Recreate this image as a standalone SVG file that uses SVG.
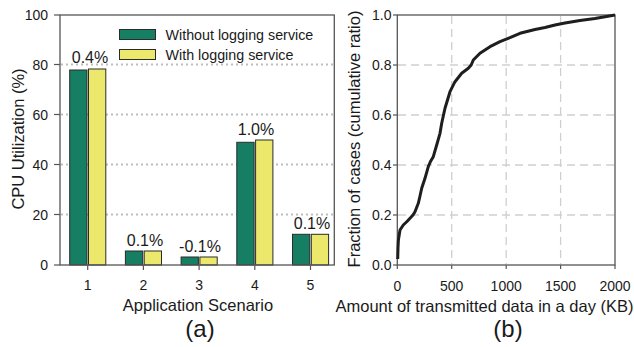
<svg xmlns="http://www.w3.org/2000/svg" width="634" height="347" viewBox="0 0 634 347">
<style>
text{font-family:"Liberation Sans",Arial,sans-serif;fill:#1a1a1a}
.tk{font-size:14px}
.ax{font-size:16.5px}
.bl{font-size:16px;text-anchor:middle}
.cap{font-size:24px;text-anchor:middle}
.frame{fill:none;stroke:#555;stroke-width:1.3}
.tick{stroke:#555;stroke-width:1.2}
.dot{stroke:#bdbdbd;stroke-width:2;stroke-dasharray:2 3}
.dash{stroke:#cfcfcf;stroke-width:1.3;stroke-dasharray:8 5}
.g{fill:#157e63;stroke:#2b2b2b;stroke-width:1}
.y{fill:#ece86c;stroke:#2b2b2b;stroke-width:1}
</style>
<rect width="634" height="347" fill="#fff"/>

<!-- Panel (a) -->
<g id="chart-a">
  <g id="a-grid">
    <line class="dot" x1="61" y1="214.5" x2="333" y2="214.5"/>
    <line class="dot" x1="61" y1="164.5" x2="333" y2="164.5"/>
    <line class="dot" x1="61" y1="114.5" x2="333" y2="114.5"/>
    <line class="dot" x1="61" y1="64.5" x2="333" y2="64.5"/>
  </g>
  <g id="a-bars">
    <rect class="g" x="69.7" y="70" width="17.3" height="195"/>
    <rect class="y" x="88.5" y="69" width="17.3" height="196"/>
    <rect class="g" x="125.4" y="251" width="17.3" height="14"/>
    <rect class="y" x="144.2" y="251" width="17.3" height="14"/>
    <rect class="g" x="181.1" y="257" width="17.3" height="8"/>
    <rect class="y" x="199.9" y="257" width="17.3" height="8"/>
    <rect class="g" x="236.8" y="142.3" width="17.3" height="122.7"/>
    <rect class="y" x="255.6" y="140" width="17.3" height="125"/>
    <rect class="g" x="292.5" y="234.3" width="17.3" height="30.7"/>
    <rect class="y" x="311.3" y="234.3" width="17.3" height="30.7"/>
  </g>
  <g id="a-barlabels">
    <text class="bl" x="90" y="63">0.4%</text>
    <text class="bl" x="145" y="246">0.1%</text>
    <text class="bl" x="200" y="252">-0.1%</text>
    <text class="bl" x="256" y="135">1.0%</text>
    <text class="bl" x="312" y="228.5">0.1%</text>
  </g>
  <rect class="frame" x="60" y="15" width="274.3" height="250"/>
  <g id="a-ticks">
    <line class="tick" x1="54" y1="15" x2="60" y2="15"/>
    <line class="tick" x1="54" y1="64.5" x2="60" y2="64.5"/>
    <line class="tick" x1="54" y1="114.5" x2="60" y2="114.5"/>
    <line class="tick" x1="54" y1="164.5" x2="60" y2="164.5"/>
    <line class="tick" x1="54" y1="214.5" x2="60" y2="214.5"/>
    <line class="tick" x1="54" y1="265" x2="60" y2="265"/>
    <line class="tick" x1="87.7" y1="265" x2="87.7" y2="270"/>
    <line class="tick" x1="143.4" y1="265" x2="143.4" y2="270"/>
    <line class="tick" x1="199.1" y1="265" x2="199.1" y2="270"/>
    <line class="tick" x1="254.8" y1="265" x2="254.8" y2="270"/>
    <line class="tick" x1="310.5" y1="265" x2="310.5" y2="270"/>
  </g>
  <g id="a-ylabels" class="tk" text-anchor="end">
    <text x="48" y="20">100</text>
    <text x="48" y="69.5">80</text>
    <text x="48" y="119.5">60</text>
    <text x="48" y="169.5">40</text>
    <text x="48" y="219.5">20</text>
    <text x="48" y="270">0</text>
  </g>
  <g id="a-xlabels" class="tk" text-anchor="middle">
    <text x="87.7" y="290">1</text>
    <text x="143.4" y="290">2</text>
    <text x="199.1" y="290">3</text>
    <text x="254.8" y="290">4</text>
    <text x="310.5" y="290">5</text>
  </g>
  <text class="ax" x="198" y="311" text-anchor="middle">Application Scenario</text>
  <text class="ax" transform="translate(24,139) rotate(-90)" text-anchor="middle">CPU Utilization (%)</text>
  <g id="legend">
    <rect class="g" x="119.5" y="29.5" width="36" height="10"/>
    <text x="165.5" y="40" style="font-size:14.3px">Without logging service</text>
    <rect class="y" x="119.5" y="49.5" width="36" height="10"/>
    <text x="165.5" y="60" style="font-size:14.3px">With logging service</text>
  </g>
  <text class="cap" x="200" y="337">(a)</text>
</g>

<!-- Panel (b) -->
<g id="chart-b">
  <g id="b-grid">
    <line class="dash" x1="398" y1="215" x2="614" y2="215"/>
    <line class="dash" x1="398" y1="165" x2="614" y2="165"/>
    <line class="dash" x1="398" y1="115" x2="614" y2="115"/>
    <line class="dash" x1="398" y1="65" x2="614" y2="65"/>
    <line class="dash" x1="451.7" y1="16" x2="451.7" y2="264"/>
    <line class="dash" x1="506.2" y1="16" x2="506.2" y2="264"/>
    <line class="dash" x1="560.6" y1="16" x2="560.6" y2="264"/>
  </g>
  <rect class="frame" x="397.3" y="15" width="217.7" height="250"/>
  <g id="b-ticks">
    <line class="tick" x1="393" y1="15" x2="397.3" y2="15"/>
    <line class="tick" x1="393" y1="65" x2="397.3" y2="65"/>
    <line class="tick" x1="393" y1="115" x2="397.3" y2="115"/>
    <line class="tick" x1="393" y1="165" x2="397.3" y2="165"/>
    <line class="tick" x1="393" y1="215" x2="397.3" y2="215"/>
    <line class="tick" x1="393" y1="265" x2="397.3" y2="265"/>
    <line class="tick" x1="397.3" y1="265" x2="397.3" y2="269"/>
    <line class="tick" x1="451.7" y1="265" x2="451.7" y2="269"/>
    <line class="tick" x1="506.2" y1="265" x2="506.2" y2="269"/>
    <line class="tick" x1="560.6" y1="265" x2="560.6" y2="269"/>
    <line class="tick" x1="615" y1="265" x2="615" y2="269"/>
  </g>
  <path id="cdf" fill="none" stroke="#1e1e1e" stroke-width="3" stroke-linejoin="round" d="M397.7,259 L398,248 L398.4,240 L400,230 L403.3,225 L407,221.5 L410,218.3 L413,215 L415,211.7 L418.3,203.3 L420,196 L421.7,188.3 L425,178.3 L428.3,166.7 L430.5,161.5 L433.3,156.7 L436.7,145 L440,133.3 L441.7,123.3 L445,108.3 L450,91.7 L455,81.7 L461.7,73.3 L468.3,68.3 L471.2,65 L473.3,60 L480,53.3 L490,46.7 L500,41.7 L510,37.7 L520,33.3 L535,29.5 L545,27.5 L555,25 L565,23 L580,20.5 L595,18.5 L605,16.7 L615,15"/>
  <g id="b-ylabels" class="tk" text-anchor="end">
    <text x="391.5" y="20">1.0</text>
    <text x="391.5" y="70">0.8</text>
    <text x="391.5" y="120">0.6</text>
    <text x="391.5" y="170">0.4</text>
    <text x="391.5" y="220">0.2</text>
    <text x="391.5" y="270">0.0</text>
  </g>
  <g id="b-xlabels" class="tk" text-anchor="middle">
    <text x="397.3" y="290.5">0</text>
    <text x="451.7" y="290.5">500</text>
    <text x="506.2" y="290.5">1000</text>
    <text x="560.6" y="290.5">1500</text>
    <text x="615" y="290.5">2000</text>
  </g>
  <text class="ax" x="484.5" y="311.5" text-anchor="middle">Amount of transmitted data in a day (KB)</text>
  <text class="ax" transform="translate(360,139) rotate(-90)" text-anchor="middle">Fraction of cases (cumulative ratio)</text>
  <text class="cap" x="508" y="337">(b)</text>
</g>
</svg>
